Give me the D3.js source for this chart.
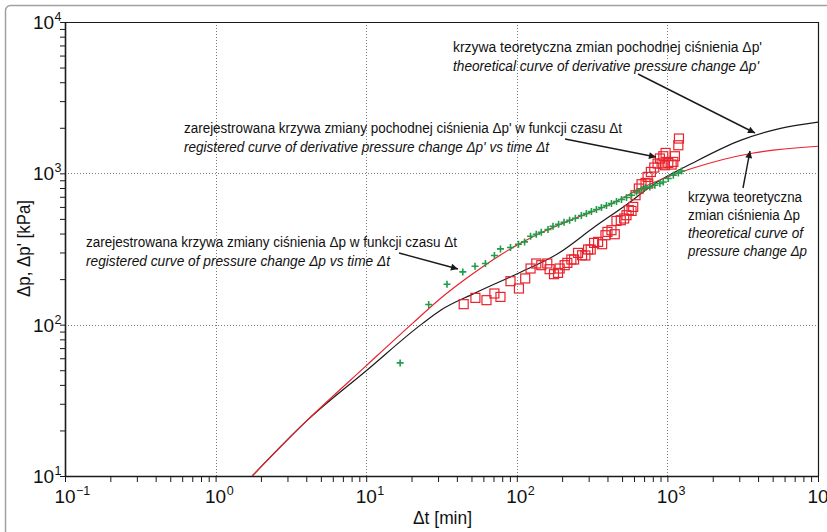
<!DOCTYPE html>
<html><head><meta charset="utf-8">
<script src="https://cdn.jsdelivr.net/npm/d3@7"></script>
<style>body{margin:0;background:#fff}svg{display:block}</style>
</head><body><svg id="c" width="827" height="532"></svg>
<script>
// ---------------- DATA ----------------
const xTickExps = [-1, 0, 1, 2, 3, 4];
const yTickExps = [1, 2, 3, 4];
const xGrid = [1, 10, 100, 1000];
const yGrid = [100, 1000];

// theoretical curve of pressure change Δp (red)
const theoPT = [1.75, 4.07, 10.1, 20.3, 31.4, 44.7, 101.6, 145, 245, 425, 673, 1449, 3640, 10000];
const theoPV = [10, 23.4, 54, 102, 150, 197, 338, 405, 505, 630, 800, 1076, 1358, 1510];
// theoretical curve of derivative pressure change Δp' (black)
const theoDT = [1.75, 4.07, 10.1, 23.7, 31.4, 52.3, 101.6, 188, 329, 549, 826, 1449, 3055, 5636, 10000];
const theoDV = [10, 23.4, 50, 102, 125, 161, 218, 295, 443, 632, 857, 1161, 1652, 1982, 2178];

// registered Δp (green crosses)
const regPT = [16.8, 26.0, 34.4, 43.8, 52.8, 61.9, 71.0, 77.9, 90.8, 102.6, 112.6, 123.4, 134.7, 145.4, 161.1, 173.9, 189.5, 205.9, 224.3, 244.8, 268.4, 289.9, 312.9, 337.8, 364.7, 393.8, 425.2, 459.0, 495.6, 535.1, 577.8, 623.6, 673.3, 715.9, 764.6, 825.6, 891.4, 939.1, 1014, 1095, 1182, 1243];
const regPV = [55.9, 135.9, 185.1, 223.2, 243.4, 253.6, 286.5, 316.7, 323.5, 340.1, 352.3, 384.1, 396.0, 408.3, 425.4, 447.3, 461.1, 475.3, 490.0, 505.1, 526.4, 542.6, 559.4, 576.7, 594.5, 612.9, 631.8, 651.3, 671.4, 692.2, 716.9, 753.8, 781.6, 805.7, 813.1, 834.3, 856.1, 877.3, 924.1, 971.6, 1006, 1037];

// registered Δp' (red squares)
const regDT = [44.4, 53.1, 62.9, 71.0, 77.9, 90.8, 103.3, 113.7, 123.4, 134.7, 145.4, 159.4, 165.1, 176.6, 187.8, 192.5, 207.8, 216.6, 230.3, 240.0, 255.1, 271.3, 285.4, 297.5, 309.6, 326.1, 346.7, 368.7, 387.8, 399.9, 425.2, 447.2, 459.0, 490.3, 516.4, 535.1, 554.3, 577.8, 593.0, 614.3, 646.2, 673.3, 715.9, 746.4, 738.5, 776.6, 818.0, 860.5, 891.4, 939.1, 972.8, 915.0, 962.5, 1014, 1067, 1095, 1122, 1182, 1193];
const regDV = [136.6, 150.3, 145.2, 160.7, 152.6, 193.8, 173.4, 202.0, 235.0, 253.6, 247.2, 253.6, 232.6, 215.6, 219.9, 235.0, 247.2, 256.0, 269.5, 269.5, 298.0, 287.7, 286.5, 313.8, 313.8, 347.0, 352.3, 340.1, 390.0, 410.1, 420.9, 396.0, 484.8, 490.0, 502.9, 528.7, 570.6, 564.6, 600.0, 716.9, 793.6, 847.2, 864.2, 856.1, 946.6, 1021, 1092, 1161, 1253, 1297, 1364, 1161, 1131, 1172, 1143, 1189, 1297, 1533, 1698];

// annotation texts
const ann1 = ["krzywa teoretyczna zmian pochodnej ciśnienia Δp'", "theoretical curve of derivative pressure change Δp'"];
const ann2 = ["zarejestrowana krzywa zmiany pochodnej ciśnienia Δp' w funkcji czasu Δt", "registered curve of derivative pressure change Δp' vs time Δt"];
const ann3 = ["zarejestrowana krzywa zmiany ciśnienia Δp w funkcji czasu Δt", "registered curve of pressure change Δp vs time Δt"];
const ann4 = ["krzywa teoretyczna", "zmian ciśnienia Δp", "theoretical curve of", "pressure change Δp"];
const xTitle = "Δt [min]";
const yTitle = "Δp, Δp' [kPa]";

// ---------------- LAYOUT ----------------
const M = {l: 65, r: 818, t: 22, b: 476};
const FONT = "'Liberation Sans','Arial',sans-serif";
const RED = "#e8232d", GREEN = "#1e9e4a", BLACK = "#1a1a1a";

const x = d3.scaleLog().domain([0.1, 1e4]).range([M.l, M.r]);
const y = d3.scaleLog().domain([10, 1e4]).range([M.b, M.t]);
const svg = d3.select("#c").style("font-family", FONT);

// outer figure border
svg.append("rect").attr("x", 5.5).attr("y", 5.5).attr("width", 840).attr("height", 540)
  .attr("rx", 5).attr("fill", "none").attr("stroke", "#a0a0a0").attr("stroke-width", 1.5);

// grid
svg.append("g").selectAll("line").data(xGrid).join("line")
  .attr("x1", d => Math.round(x(d)) + 0.5).attr("x2", d => Math.round(x(d)) + 0.5)
  .attr("y1", M.t).attr("y2", M.b)
  .attr("stroke", "#7a7a7a").attr("stroke-width", 1).attr("stroke-dasharray", "1,2");
svg.append("g").selectAll("line").data(yGrid).join("line")
  .attr("y1", d => Math.round(y(d)) + 0.5).attr("y2", d => Math.round(y(d)) + 0.5)
  .attr("x1", M.l).attr("x2", M.r)
  .attr("stroke", "#7a7a7a").attr("stroke-width", 1).attr("stroke-dasharray", "1,2");

// frame top/right
svg.append("line").attr("x1", M.l).attr("x2", M.r).attr("y1", M.t + 0.5).attr("y2", M.t + 0.5).attr("stroke", BLACK).attr("stroke-width", 1.2);
svg.append("line").attr("x1", M.r + 0.5).attr("x2", M.r + 0.5).attr("y1", M.t).attr("y2", M.b).attr("stroke", BLACK).attr("stroke-width", 1.2);

// axes
const gx = svg.append("g").attr("transform", `translate(0,${M.b})`)
  .call(d3.axisBottom(x).tickValues(x.ticks()).tickSize(6).tickSizeOuter(0).tickFormat(""));
const gy = svg.append("g").attr("transform", `translate(${M.l},0)`)
  .call(d3.axisLeft(y).tickValues(y.ticks()).tickSize(5).tickSizeOuter(0).tickFormat(""));
[gx, gy].forEach(g => {
  g.select(".domain").attr("stroke", BLACK).attr("stroke-width", 1.6);
  g.selectAll(".tick line").attr("stroke", BLACK).attr("stroke-width", 1);
});

// tick labels with superscripts
function pow10Label(g, xpos, ypos, exp, anchor) {
  const t = g.append("text").attr("y", ypos).attr("font-size", 19).attr("fill", "#111");
  t.append("tspan").text("10");
  t.append("tspan").attr("font-size", 12.5).attr("dy", -8).attr("dx", 0.5)
    .text(exp < 0 ? "\u2212" + Math.abs(exp) : String(exp));
  const w10 = t.node().firstChild.getComputedTextLength();
  const wAll = t.node().getComputedTextLength();
  if (anchor === "center10") t.attr("x", xpos - w10 / 2);
  else t.attr("x", xpos - wAll - 1);
}
const lab = svg.append("g");
xTickExps.forEach(e => pow10Label(lab, x(Math.pow(10, e)), M.b + 27, e, "center10"));
yTickExps.forEach(e => pow10Label(lab, M.l - 3, y(Math.pow(10, e)) + 7, e, "right"));

// axis titles
svg.append("text").attr("x", 413).attr("y", 524).attr("font-size", 19).attr("fill", "#111")
  .attr("textLength", 59).attr("lengthAdjust", "spacingAndGlyphs").text(xTitle);
svg.append("text").attr("transform", "translate(30,297) rotate(-90)").attr("font-size", 18).attr("fill", "#111")
  .attr("textLength", 97).attr("lengthAdjust", "spacingAndGlyphs").text(yTitle);

// clip
svg.append("clipPath").attr("id", "clip").append("rect")
  .attr("x", M.l).attr("y", M.t).attr("width", M.r - M.l).attr("height", M.b - M.t);
const plot = svg.append("g").attr("clip-path", "url(#clip)");

const line = d3.line().curve(d3.curveMonotoneX).x(d => x(d[0])).y(d => y(d[1]));
plot.append("path").datum(d3.zip(theoDT, theoDV)).attr("d", line)
  .attr("fill", "none").attr("stroke", BLACK).attr("stroke-width", 1.2);
plot.append("path").datum(d3.zip(theoPT, theoPV)).attr("d", line)
  .attr("fill", "none").attr("stroke", RED).attr("stroke-width", 1.2);

// red squares
plot.append("g").selectAll("rect").data(d3.zip(regDT, regDV)).join("rect")
  .attr("x", d => x(d[0]) - 4.5).attr("y", d => y(d[1]) - 4.5)
  .attr("width", 9).attr("height", 9).attr("fill", "none")
  .attr("stroke", RED).attr("stroke-width", 1.2);
// green crosses
plot.append("g").selectAll("path").data(d3.zip(regPT, regPV)).join("path")
  .attr("d", d => { const cx = x(d[0]), cy = y(d[1]); return `M${cx-3.5},${cy}H${cx+3.5}M${cx},${cy-3.5}V${cy+3.5}`; })
  .attr("stroke", GREEN).attr("stroke-width", 1.6).attr("fill", "none");

// arrow marker
svg.append("defs").append("marker").attr("id", "ah").attr("viewBox", "0 0 10 10")
  .attr("refX", 10).attr("refY", 5).attr("markerWidth", 11).attr("markerHeight", 7)
  .attr("markerUnits", "userSpaceOnUse").attr("orient", "auto")
  .append("path").attr("d", "M0,0L10,5L0,10z").attr("fill", BLACK);

function annotate(lines, x0, baselines, widths, italicFrom) {
  lines.forEach((s, i) => {
    svg.append("text").attr("x", x0).attr("y", baselines[i]).attr("font-size", 15.5)
      .attr("fill", "#111").attr("font-style", i >= italicFrom ? "italic" : "normal")
      .attr("textLength", widths[i]).attr("lengthAdjust", "spacingAndGlyphs").text(s);
  });
}
annotate(ann1, 453, [52, 71], [309, 306], 1);
annotate(ann2, 184, [133, 152], [438, 365], 1);
annotate(ann3, 86, [247, 266], [371, 304], 1);
annotate(ann4, 688, [202, 220, 238, 256], [114, 112, 115, 119], 2);

function arrow(x1, y1, x2, y2) {
  svg.append("line").attr("x1", x1).attr("y1", y1).attr("x2", x2).attr("y2", y2)
    .attr("stroke", BLACK).attr("stroke-width", 1.4).attr("marker-end", "url(#ah)");
}
arrow(638, 74, 755, 133);
arrow(565, 139, 656, 157);
arrow(399, 253, 458, 269);
arrow(743, 188, 750, 151);
</script></body></html>
